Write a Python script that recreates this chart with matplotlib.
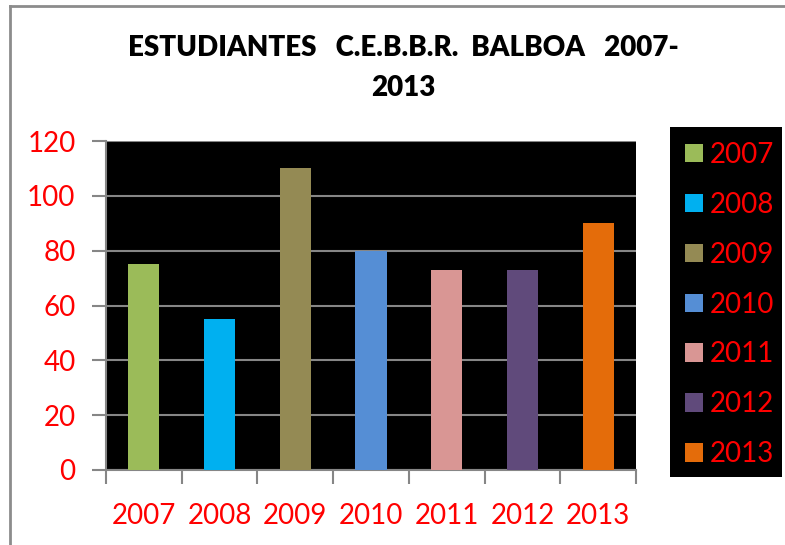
import matplotlib as mpl
import matplotlib.pyplot as plt
import numpy as np
from matplotlib.patches import Rectangle
from matplotlib.lines import Line2D

# datos del grafico
anios = ['2007', '2008', '2009', '2010', '2011', '2012', '2013']
estudiantes = [75, 55, 110, 80, 73, 73, 90]
colores = ['#9BBB59', '#00B0F0', '#948A54', '#558ED5', '#D99694', '#604A7B', '#E46C0A']
titulo = "ESTUDIANTES   C.E.B.B.R.  BALBOA   2007-\n2013"

plt.rcParams['font.family'] = ['Lato', 'DejaVu Sans']

fig = plt.figure(figsize=(7.85, 5.45), dpi=100)
ax = fig.add_axes([106 / 785, 1 - 470 / 545, 530 / 785, 329 / 545])
ax.set_facecolor('black')

x = np.arange(len(anios))
barras = ax.bar(x, estudiantes, width=0.41, color=colores, zorder=3, label=anios)

ax.set_xlim(-0.5, len(anios) - 0.5)
ax.set_ylim(0, 120)
ax.set_yticks(range(0, 121, 20))
ax.yaxis.grid(True, color='#868686', linewidth=1.5, zorder=1)

gris = '#868686'
ax.spines['left'].set_color(gris)
ax.spines['bottom'].set_color(gris)
ax.spines['left'].set_linewidth(1.5)
ax.spines['bottom'].set_linewidth(1.5)
ax.spines['top'].set_visible(False)
ax.spines['right'].set_visible(False)

# ticks del eje x entre categorias, etiquetas centradas
ax.set_xticks(np.arange(-0.5, len(anios), 1.0))
ax.set_xticklabels([])
ax.set_xticks(x, minor=True)
ax.set_xticklabels(anios, minor=True)
ax.tick_params(axis='x', which='major', length=10, width=1.5, color=gris, direction='out')
ax.tick_params(axis='x', which='minor', length=0, pad=24, labelsize=20, labelcolor='red')
ax.tick_params(axis='y', length=10, width=1.5, color=gris, pad=12, labelsize=20, labelcolor='red')

fig.text(403 / 785, 1 - 68 / 545, titulo, ha='center', va='center', fontsize=20,
         fontweight='heavy', linespacing=1.62)

# caja de la leyenda
fig.patches.append(Rectangle((670 / 785, 1 - 477 / 545), 112 / 785, 350 / 545,
                             transform=fig.transFigure, facecolor='black', edgecolor='none', zorder=0))
leg = fig.legend(handles=list(barras), labels=anios, loc='upper left',
                 bbox_to_anchor=(671 / 785, 1 - 128 / 545), frameon=False,
                 fontsize=20, labelcolor='red', handlelength=0.65, handleheight=0.65,
                 handletextpad=0.25, labelspacing=0.86, borderpad=0)

# marco exterior
fig.add_artist(Line2D([10 / 785, 10 / 785], [0, 1 - 6 / 545], transform=fig.transFigure, color='#8C8C8C', lw=2))
fig.add_artist(Line2D([10 / 785, 1], [1 - 6 / 545, 1 - 6 / 545], transform=fig.transFigure, color='#8C8C8C', lw=2))

fig.savefig('out.png', dpi=100)
